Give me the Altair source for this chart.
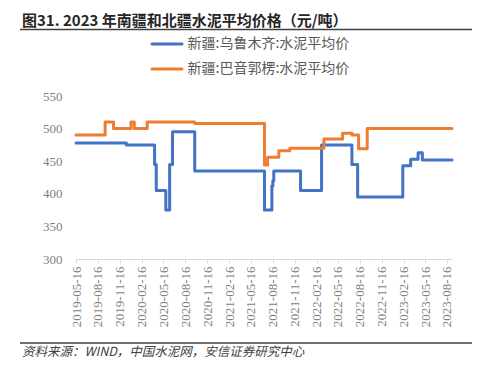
import altair as alt
import pandas as pd

title_text = "图31. 2023 年南疆和北疆水泥平均价格（元/吨）"
source_text = "资料来源：WIND，中国水泥网，安信证券研究中心"
series_names = ["新疆:乌鲁木齐:水泥平均价", "新疆:巴音郭楞:水泥平均价"]
series_colors = ["#4472C4", "#ED7D31"]

# 乌鲁木齐 (step changes)
u_dates = ["2019-05-16", "2019-12-13", "2020-04-09", "2020-04-16", "2020-05-26",
           "2020-06-11", "2020-06-23", "2020-09-24", "2021-07-13", "2021-08-13",
           "2021-08-17", "2021-08-21", "2021-12-11", "2022-03-09", "2022-07-14",
           "2022-08-07", "2023-02-12", "2023-03-17", "2023-04-17", "2023-05-05",
           "2023-09-06"]
u_vals = [478, 475, 445, 405, 375, 445, 495, 435, 375, 412, 420, 435, 405, 475,
          445, 395, 443, 453, 463, 452, 452]

# 巴音郭楞 (step changes)
b_dates = ["2019-05-16", "2019-09-15", "2019-10-20", "2020-01-01", "2020-01-15",
           "2020-03-09", "2020-09-24", "2021-07-13", "2021-07-26", "2021-09-11",
           "2021-10-27", "2022-03-19", "2022-06-05", "2022-07-14", "2022-08-11",
           "2022-09-16", "2023-09-06"]
b_vals = [490, 510, 500, 510, 500, 510, 508, 444, 456, 466, 470, 484, 493, 490,
          469, 500, 500]

tick_dates = ["2019-05-16", "2019-08-16", "2019-11-16", "2020-02-16", "2020-05-16",
              "2020-08-16", "2020-11-16", "2021-02-16", "2021-05-16", "2021-08-16",
              "2021-11-16", "2022-02-16", "2022-05-16", "2022-08-16", "2022-11-16",
              "2023-02-16", "2023-05-16", "2023-08-16"]
y_ticks = [300, 350, 400, 450, 500, 550]
x_start, x_end = "2019-05-16", "2023-09-06"


def dt(s):
    y, m, d = (int(p) for p in s.split("-"))
    return alt.DateTime(year=y, month=m, date=d)


rows = []
for d, v in zip(u_dates, u_vals):
    rows.append({"date": d + "T00:00:00", "value": v, "series": series_names[0]})
for d, v in zip(b_dates, b_vals):
    rows.append({"date": d + "T00:00:00", "value": v, "series": series_names[1]})
df = pd.DataFrame(rows)

W, H = 376, 163
grey = "#808080"

lines = alt.Chart(df).mark_line(
    interpolate="step-after", strokeWidth=3, strokeCap="round", strokeJoin="round"
).encode(
    x=alt.X("date:T",
            scale=alt.Scale(domain=[dt(x_start), dt(x_end)]),
            axis=alt.Axis(values=[dt(t) for t in tick_dates], format="%Y-%m-%d",
                          labelAngle=270, labelFont="Liberation Serif",
                          labelFontSize=13, labelColor=grey, tickSize=4,
                          tickColor="#d9d9d9", domainColor="#d9d9d9",
                          labelPadding=3, grid=False, title=None,
                          labelOverlap=False)),
    y=alt.Y("value:Q",
            scale=alt.Scale(domain=[300, 550], nice=False),
            axis=alt.Axis(values=y_ticks, labelFont="Liberation Serif",
                          labelFontSize=13, labelColor=grey, domain=False,
                          ticks=False, grid=False, labelPadding=14, title=None)),
    color=alt.Color("series:N",
                    scale=alt.Scale(domain=series_names, range=series_colors),
                    legend=None),
)

one = pd.DataFrame({"k": [0]})

title = alt.Chart(one).mark_text(
    align="left", baseline="alphabetic", fontSize=15, fontWeight="bold",
    font="Noto Sans CJK SC", color="#262626"
).encode(x=alt.value(-54), y=alt.value(-70.5), text=alt.value(title_text))

title_rule = alt.Chart(one).mark_rule(color="#404040", strokeWidth=1.5).encode(
    x=alt.value(-56), x2=alt.value(402), y=alt.value(-66.5))

bottom_rule = alt.Chart(one).mark_rule(color="#404040", strokeWidth=1.5).encode(
    x=alt.value(-56), x2=alt.value(402), y=alt.value(247))

source = alt.Chart(one).mark_text(
    align="left", baseline="middle", fontSize=12.5, fontStyle="italic",
    font="Noto Sans CJK SC", color="#404040"
).encode(x=alt.value(-54), y=alt.value(256), text=alt.value(source_text))

legend_layers = []
for i, (name, col) in enumerate(zip(series_names, series_colors)):
    yy = -52 + 25 * i
    legend_layers.append(
        alt.Chart(one).mark_rule(color=col, strokeWidth=3, strokeCap="round").encode(
            x=alt.value(76), x2=alt.value(106), y=alt.value(yy)))
    legend_layers.append(
        alt.Chart(one).mark_text(align="left", baseline="middle", fontSize=14,
                                 font="Noto Sans CJK SC", color="#595959").encode(
            x=alt.value(111.5), y=alt.value(yy), text=alt.value(name)))

chart = alt.layer(lines, title, title_rule, bottom_rule, source, *legend_layers).properties(
    width=W, height=H,
    autosize=alt.AutoSizeParams(type="none"),
    padding={"left": 68, "top": 88, "right": 20, "bottom": 105},
).configure_view(stroke=None)

chart.save("out.html", embed_options={"renderer": "svg", "actions": False})
